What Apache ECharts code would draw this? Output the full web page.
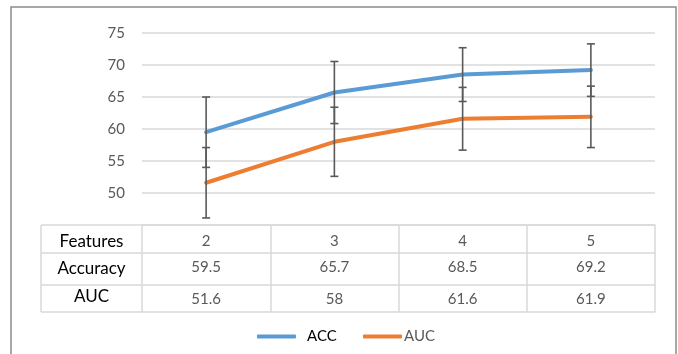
<!DOCTYPE html>
<html>
<head>
<meta charset="utf-8">
<script src="https://cdn.jsdelivr.net/npm/echarts@6/dist/echarts.min.js"></script>
<style>html,body{margin:0;padding:0;background:#fff;}#c{width:678px;height:354px;}</style>
</head>
<body>
<div id="c"></div>
<script>
const categories = ['2', '3', '4', '5'];
const accValues = [59.5, 65.7, 68.5, 69.2];
const aucValues = [51.6, 58, 61.6, 61.9];
const accErr = [5.5, 4.85, 4.2, 4.1];
const aucErr = [5.5, 5.4, 4.9, 4.8];
const rowLabels = ['Features', 'Accuracy', 'AUC'];
const yTicks = [45, 50, 55, 60, 65, 70, 75];

const FONT = 'Lato';
const GRAY = '#595959';
const LINE = '#d9d9d9';

const chart = echarts.init(document.getElementById('c'), null, {renderer: 'canvas'});

function errRender(params, api) {
  const x = api.value(0), v = api.value(1), e = api.value(2);
  const hi = api.coord([x, v + e]);
  const lo = api.coord([x, v - e]);
  const cap = 4;
  const style = {stroke: GRAY, lineWidth: 1.6};
  return {
    type: 'group',
    children: [
      {type: 'line', shape: {x1: hi[0], y1: hi[1], x2: lo[0], y2: lo[1]}, style: style},
      {type: 'line', shape: {x1: hi[0] - cap, y1: hi[1], x2: hi[0] + cap, y2: hi[1]}, style: style},
      {type: 'line', shape: {x1: lo[0] - cap, y1: lo[1], x2: lo[0] + cap, y2: lo[1]}, style: style}
    ]
  };
}

const gridTop = 33, gridBottomY = 225;
const rowOffsets = [0, 28, 60, 87];
const rowTick = [28, 32, 27];
const labelMargin = [16, 14, 14];
const rowLabelCenter = [17, 44, 72];

function tableAxis(idx, data, showLabel) {
  return {
    type: 'category',
    gridIndex: 0,
    position: 'bottom',
    offset: rowOffsets[idx],
    data: data,
    boundaryGap: true,
    axisLine: {show: true, lineStyle: {color: LINE, width: 1.5}},
    axisTick: {show: idx < 3, interval: 0, length: idx < 3 ? rowTick[idx] : 0, lineStyle: {color: LINE, width: 1.5}},
    axisLabel: {
      show: showLabel, interval: 0, color: GRAY, fontFamily: FONT, fontSize: 15,
      verticalAlign: 'middle', margin: idx < 3 ? labelMargin[idx] : 0
    },
    splitLine: {show: false}
  };
}

const option = {
  backgroundColor: '#fff',
  animation: false,
  grid: {left: 142, right: 23, top: gridTop, bottom: 354 - gridBottomY},
  xAxis: [
    tableAxis(0, categories, true),
    tableAxis(1, accValues.map(String), true),
    tableAxis(2, aucValues.map(String), true),
    tableAxis(3, categories, false)
  ],
  yAxis: {
    type: 'value', min: yTicks[0], max: yTicks[yTicks.length - 1], interval: 5,
    axisLine: {show: false}, axisTick: {show: false},
    axisLabel: {color: GRAY, fontFamily: FONT, fontSize: 15, margin: 17,
      formatter: v => (v === yTicks[0] ? '' : String(v))},
    splitLine: {lineStyle: {color: LINE, width: 1.5}}
  },
  legend: [
    {data: ['ACC'], left: 257, top: 329, padding: 0, icon: 'roundRect', itemWidth: 39, itemHeight: 4,
      textStyle: {color: '#000', fontFamily: FONT, fontSize: 15, padding: [0, 0, 0, 6]}},
    {data: ['AUC'], left: 363, top: 329, padding: 0, icon: 'roundRect', itemWidth: 39, itemHeight: 4,
      textStyle: {color: GRAY, fontFamily: FONT, fontSize: 15, padding: [0, 0, 0, -3]}}
  ],
  series: [
    {name: 'ACC', type: 'line', xAxisIndex: 0, data: accValues, showSymbol: false, symbol: 'none',
      lineStyle: {color: '#5B9BD5', width: 4, cap: 'round'}, itemStyle: {color: '#5B9BD5'}, z: 2},
    {name: 'AUC', type: 'line', xAxisIndex: 0, data: aucValues, showSymbol: false, symbol: 'none',
      lineStyle: {color: '#ED7D31', width: 4, cap: 'round'}, itemStyle: {color: '#ED7D31'}, z: 2},
    {name: 'ACC err', type: 'custom', xAxisIndex: 0, renderItem: errRender, z: 3,
      data: accValues.map((v, i) => [i, v, accErr[i]])},
    {name: 'AUC err', type: 'custom', xAxisIndex: 0, renderItem: errRender, z: 3,
      data: aucValues.map((v, i) => [i, v, aucErr[i]])}
  ]
};
chart.setOption(option);

// Left label column of the table, aligned to the grid's left edge and the row offsets
const p0 = chart.convertToPixel({xAxisIndex: 0}, categories[0]);
const p1 = chart.convertToPixel({xAxisIndex: 0}, categories[1]);
const gridLeft = p0 - (p1 - p0) / 2;
const colLeft = 41;
const lineStyle = {stroke: LINE, lineWidth: 1.5};
const g = [];
rowOffsets.forEach(o => {
  g.push({type: 'line', shape: {x1: colLeft, y1: gridBottomY + o, x2: gridLeft, y2: gridBottomY + o}, style: lineStyle, silent: true});
});
g.push({type: 'line', shape: {x1: colLeft, y1: gridBottomY, x2: colLeft, y2: gridBottomY + rowOffsets[3]}, style: lineStyle});
rowLabels.forEach((t, i) => {
  g.push({type: 'text', style: {text: t, x: (colLeft + gridLeft) / 2, y: gridBottomY + rowLabelCenter[i],
    textAlign: 'center', textVerticalAlign: 'middle', fill: '#000', font: '17px ' + FONT}});
});
g.push({type: 'rect', shape: {x: 11, y: 7, width: 665, height: 400}, style: {fill: 'none', stroke: '#8c8c8c', lineWidth: 1.5}, silent: true});
chart.setOption({graphic: g});
</script>
</body>
</html>
